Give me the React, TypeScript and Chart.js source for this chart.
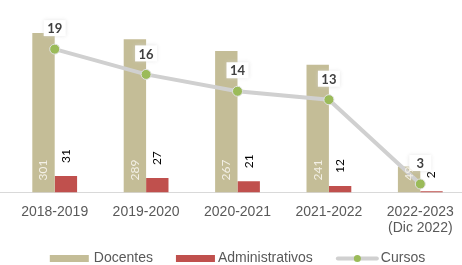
import React, { useEffect, useRef } from "react";
import { Chart, registerables } from "chart.js";

Chart.register(...registerables);

const categories: (string | string[])[] = ["2018-2019", "2019-2020", "2020-2021", "2021-2022", ["2022-2023", "(Dic 2022)"]];
const docentes = [301, 289, 267, 241, 49];
const administrativos = [31, 27, 21, 12, 2];
const cursos = [19, 16, 14, 13, 3];
const seriesNames = ["Docentes", "Administrativos", "Cursos"];

const C_DOC = "#c4bd97";
const C_ADM = "#c0504d";
const C_LINE = "#d0d0d0";
const C_PT = "#9bbb59";
const C_TEXT = "#595959";

const labelsPlugin = {
  id: "customLabels",
  beforeDatasetsDraw(chart: any) {
    const ctx = chart.ctx;
    const y = Math.round(chart.chartArea.bottom) + 0.5;
    ctx.save();
    ctx.strokeStyle = "#d9d9d9";
    ctx.lineWidth = 1;
    ctx.beginPath();
    ctx.moveTo(0, y);
    ctx.lineTo(chart.width, y);
    ctx.stroke();
    ctx.restore();
  },
  afterDraw(chart: any) {
    const ctx = chart.ctx;
    // Cursos label boxes
    const m2 = chart.getDatasetMeta(2);
    m2.data.forEach((el: any, i: number) => {
      const cx = el.x;
      const cy = el.y - 21;
      ctx.save();
      ctx.shadowColor = "rgba(215,215,215,0.6)";
      ctx.shadowBlur = 4;
      ctx.fillStyle = "#ffffff";
      ctx.fillRect(cx - 11, cy - 8, 22, 16);
      ctx.restore();
      ctx.save();
      ctx.font = "bold 13px Lato";
      ctx.fillStyle = "#404040";
      ctx.textAlign = "center";
      ctx.textBaseline = "middle";
      ctx.fillText(String(cursos[i]), cx, cy + 1);
      ctx.restore();
    });

    // bar labels
    const m0 = chart.getDatasetMeta(0);
    m0.data.forEach((el: any, i: number) => {
      ctx.save();
      ctx.translate(el.x, el.base - 12);
      ctx.rotate(-Math.PI / 2);
      ctx.font = "12px Lato";
      ctx.fillStyle = "#f3f0e6";
      ctx.textAlign = "left";
      ctx.textBaseline = "middle";
      ctx.fillText(String(docentes[i]), 0, 0);
      ctx.restore();
    });
    const m1 = chart.getDatasetMeta(1);
    m1.data.forEach((el: any, i: number) => {
      ctx.save();
      ctx.translate(el.x, el.y - 13);
      ctx.rotate(-Math.PI / 2);
      ctx.font = "12px Lato";
      ctx.fillStyle = "#000000";
      ctx.textAlign = "left";
      ctx.textBaseline = "middle";
      ctx.fillText(String(administrativos[i]), 0, 0);
      ctx.restore();
    });

    // custom legend
    ctx.save();
    ctx.font = "14px 'Liberation Sans'";
    ctx.textBaseline = "middle";
    ctx.textAlign = "left";
    const symW = [39, 39, 43];
    const gapSym = [5, 3, 2];
    const gapItem = 23;
    const widths = seriesNames.map((t, i) => symW[i] + gapSym[i] + ctx.measureText(t).width);
    const total = widths.reduce((a, b) => a + b, 0) + gapItem * (seriesNames.length - 1);
    let x = 237.5 - total / 2;
    const ly = 258.5;
    seriesNames.forEach((t, i) => {
      if (i === 0 || i === 1) {
        ctx.fillStyle = i === 0 ? C_DOC : C_ADM;
        ctx.fillRect(x, ly - 3.5, symW[i], 7);
      } else {
        ctx.strokeStyle = C_LINE;
        ctx.lineWidth = 4;
        ctx.lineCap = "round";
        ctx.beginPath();
        ctx.moveTo(x + 2, ly);
        ctx.lineTo(x + symW[i] - 2, ly);
        ctx.stroke();
        ctx.fillStyle = C_PT;
        ctx.beginPath();
        ctx.arc(x + symW[i] / 2, ly, 3.5, 0, Math.PI * 2);
        ctx.fill();
      }
      ctx.fillStyle = C_TEXT;
      ctx.fillText(t, x + symW[i] + gapSym[i], ly);
      x += widths[i] + gapItem;
    });
    ctx.restore();
  },
};

export default function App() {
  const ref = useRef<HTMLCanvasElement>(null);
  useEffect(() => {
    document.body.style.margin = "0";
    const chart = new Chart(ref.current!, {
      type: "bar",
      data: {
        labels: categories,
        datasets: [
          {
            label: seriesNames[0],
            data: docentes,
            backgroundColor: C_DOC,
            yAxisID: "y",
            order: 2,
            categoryPercentage: 0.49,
            barPercentage: 1.0,
          },
          {
            label: seriesNames[1],
            data: administrativos,
            backgroundColor: C_ADM,
            yAxisID: "y",
            order: 2,
            categoryPercentage: 0.49,
            barPercentage: 1.0,
          },
          {
            type: "line",
            label: seriesNames[2],
            data: cursos,
            yAxisID: "y2",
            borderColor: C_LINE,
            borderWidth: 4,
            pointBackgroundColor: C_PT,
            pointBorderColor: "#e2e2e2",
            pointBorderWidth: 1,
            pointRadius: 5,
            order: 0,
          } as any,
        ],
      },
      options: {
        responsive: false,
        animation: false,
        layout: { padding: { left: 9, right: 2, top: 7, bottom: 25 } },
        scales: {
          x: {
            offset: true,
            grid: { display: false },
            border: { display: false },
            ticks: {
              color: C_TEXT,
              font: { family: "Liberation Sans", size: 14 },
              padding: 3,
              maxRotation: 0,
              autoSkip: false,
            },
          },
          y: { display: false, min: 0, max: 350 },
          y2: { display: false, min: 2, max: 24, position: "right" },
        },
        plugins: {
          tooltip: { enabled: false },
          legend: { display: false },
        },
      },
      plugins: [labelsPlugin],
    });
    return () => chart.destroy();
  }, []);
  return (
    <div style={{ width: 462, height: 265, overflow: "hidden", position: "relative" }}>
      <canvas ref={ref} width={472} height={265} style={{ display: "block" }} />
    </div>
  );
}
